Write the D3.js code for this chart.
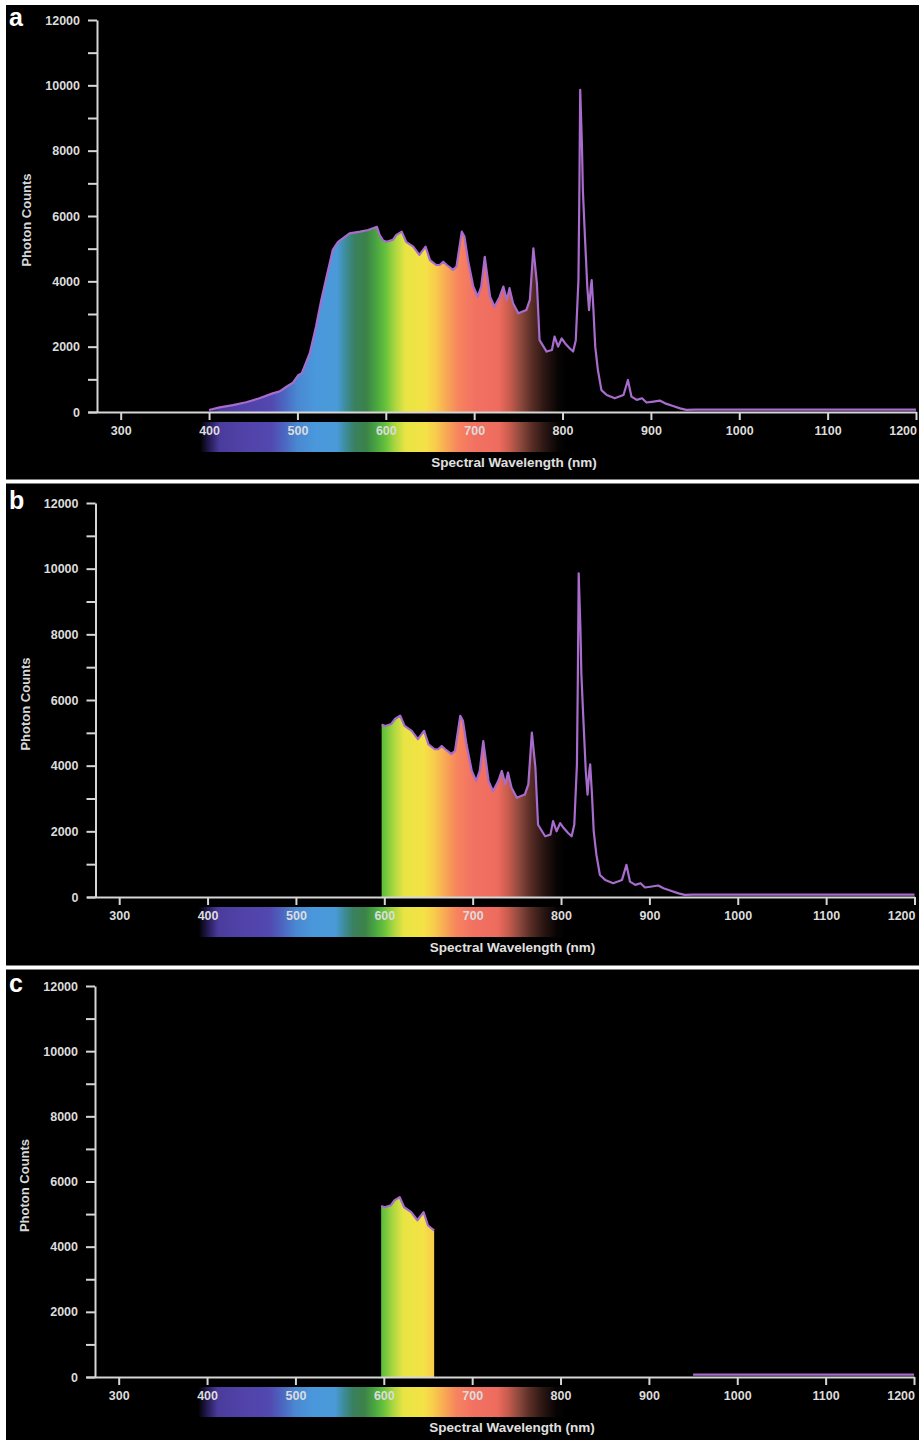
<!DOCTYPE html>
<html><head><meta charset="utf-8">
<script src="https://cdn.jsdelivr.net/npm/d3@7"></script>
<style>
body{margin:0;background:#fff}
text{font-family:"Liberation Sans",Arial,Helvetica,sans-serif;font-weight:bold}
</style>
</head><body>
<svg id="chart" width="919" height="1440"></svg>
<script>
// ---- data ----
const wavelengths = [400,412,427,442,457,472,480,488,495,501,505,514,521,527,533,540,546,554,559,571,580,590,593,597,601,608,612,618,623,631,638,645,650,657,661,665,669,676,680,686,689,693,699,704,708,712,716,718,723,729,733,737,740,744,750,759,763,767,771,774,782,788,791,795,799,803,808,812,815,818,819,820,822,823,825,828,830,832,833,835,837,840,844,850,859,869,874,878,884,890,895,903,910,916,925,933,940,950,1000,1100,1200];
const counts =      [60,140,210,300,420,570,630,780,900,1130,1190,1800,2610,3430,4140,4960,5210,5370,5470,5520,5570,5670,5420,5250,5210,5270,5420,5520,5210,5060,4810,5060,4650,4500,4500,4600,4500,4350,4450,5520,5370,4650,3840,3530,3840,4750,3940,3530,3220,3530,3840,3430,3790,3330,3020,3120,3430,5010,3940,2200,1850,1900,2310,2000,2250,2100,1950,1850,2200,4040,6590,9860,8120,6800,5570,3840,3120,3840,4040,3120,2000,1290,670,520,420,520,980,470,370,420,290,320,350,265,185,110,65,70,70,70,70];
const yTicks = d3.range(0, 12001, 1000);
const yLabelStep = 2000;
const xTicks = d3.range(300, 1201, 100);
const panelLabels = ["a", "b", "c"];
// visible wavelength segments of the measured spectrum in each panel
const panelSegments = [[[400, 1200]], [[597, 1200]], [[597, 657], [950, 1200]]];
const spectrumWl =     [390,400,412,440,470,485,500,520,545,555,565,578,590,600,610,622,645,656,668,682,700,728,740,752,765,780,795,805];
const spectrumColors = ["#000000","#241a52","#4a3c9c","#5142a8","#5248b0","#4c66c0","#4a88d2","#4a98dc","#4a9ad8","#3c8c98","#3a8060","#3c8248","#4aa840","#68c23c","#a8d640","#e8e444","#f4e246","#f8cc4c","#f8aa54","#f6845e","#f27262","#ee6c5e","#c85c4e","#904a3e","#5a2e26","#2a1612","#080404","#000000"];
const yTitle = "Photon Counts";
const xTitle = "Spectral Wavelength (nm)";

// ---- layout ----
const W = 919;
const panels = [
  {bgTop: 5,     bgBot: 479.5, top: 20,  zero: 412, dx: 0},
  {bgTop: 483.5, bgBot: 965.5, top: 503, zero: 897, dx: -1.5},
  {bgTop: 969.5, bgBot: 1440,  top: 986, zero: 1377, dx: -2}
];
const svg = d3.select("#chart");
svg.append("rect").attr("width", W).attr("height", 1440).attr("fill", "#ffffff");
const defs = svg.append("defs");
const data = wavelengths.map((w, i) => ({w, c: counts[i]}));
const axisColor = "#d6d6d6";
const lineColor = "#a86ccc";

panels.forEach((p, i) => {
  const g = svg.append("g");
  g.append("rect").attr("x", 6).attr("y", p.bgTop).attr("width", W - 6).attr("height", p.bgBot - p.bgTop).attr("fill", "#000");

  const x = d3.scaleLinear().domain([263, 1200]).range([88 + p.dx, 916 + p.dx]);
  const y = d3.scaleLinear().domain([0, 12000]).range([p.zero, p.top]);

  // spectrum gradient in wavelength space
  const gid = "spec" + i;
  const lo = spectrumWl[0], hi = spectrumWl[spectrumWl.length - 1];
  const grad = defs.append("linearGradient").attr("id", gid)
    .attr("gradientUnits", "userSpaceOnUse")
    .attr("x1", x(lo)).attr("x2", x(hi)).attr("y1", 0).attr("y2", 0);
  spectrumWl.forEach((w, k) => {
    grad.append("stop").attr("offset", (w - lo) / (hi - lo)).attr("stop-color", spectrumColors[k]);
  });

  // spectrum bar below axis
  g.append("rect").attr("x", x(lo)).attr("width", x(hi) - x(lo))
    .attr("y", p.zero + 10).attr("height", 30).attr("fill", `url(#${gid})`);

  // area + line for each visible segment
  const area = d3.area().x(d => x(d.w)).y0(y(0)).y1(d => y(d.c));
  const line = d3.line().x(d => x(d.w)).y(d => y(d.c));
  panelSegments[i].forEach(([a, b]) => {
    const seg = data.filter(d => d.w >= a && d.w <= b);
    g.append("path").datum(seg).attr("d", area).attr("fill", `url(#${gid})`);
    g.append("path").datum(seg).attr("d", line).attr("fill", "none")
      .attr("stroke", lineColor).attr("stroke-width", 2.2).attr("stroke-linejoin", "round");
  });

  // y axis
  const ya = g.append("g").attr("transform", `translate(${97 + p.dx},0)`)
    .call(d3.axisLeft(y).tickValues(yTicks).tickSize(9).tickSizeOuter(0).tickPadding(8)
      .tickFormat(d => d % yLabelStep === 0 ? String(d) : ""));
  // x axis
  const xa = g.append("g").attr("transform", `translate(0,${p.zero})`)
    .call(d3.axisBottom(x).tickValues(xTicks).tickSize(8).tickSizeOuter(0).tickPadding(6.5)
      .tickFormat(d => String(d)));
  [ya, xa].forEach(ax => {
    ax.select(".domain").attr("stroke", axisColor).attr("stroke-width", 2);
    ax.selectAll(".tick line").attr("stroke", axisColor).attr("stroke-width", 2);
    ax.selectAll(".tick text").attr("fill", "#dcdcdc").style("font-size", "12.5px")
      .style("font-family", '"Liberation Sans",Arial,sans-serif').style("font-weight", "bold");
  });
  xa.selectAll(".tick").filter(d => d === 1200).select("text").attr("text-anchor", "end").attr("dx", "0.5");

  // titles
  g.append("text").attr("transform", `translate(${31 + p.dx},${(p.top + p.zero) / 2 + 4}) rotate(-90)`)
    .attr("text-anchor", "middle").attr("fill", "#d8d8d8").style("font-size", "13px").text(yTitle);
  g.append("text").attr("x", 514 + p.dx).attr("y", p.zero + 55).attr("text-anchor", "middle")
    .attr("fill", "#e0e0e0").style("font-size", "13.5px").text(xTitle);
  // panel letter
  g.append("text").attr("x", 9).attr("y", p.top + 6).attr("fill", "#ffffff")
    .style("font-size", "25px").text(panelLabels[i]);
});
</script>
</body></html>
